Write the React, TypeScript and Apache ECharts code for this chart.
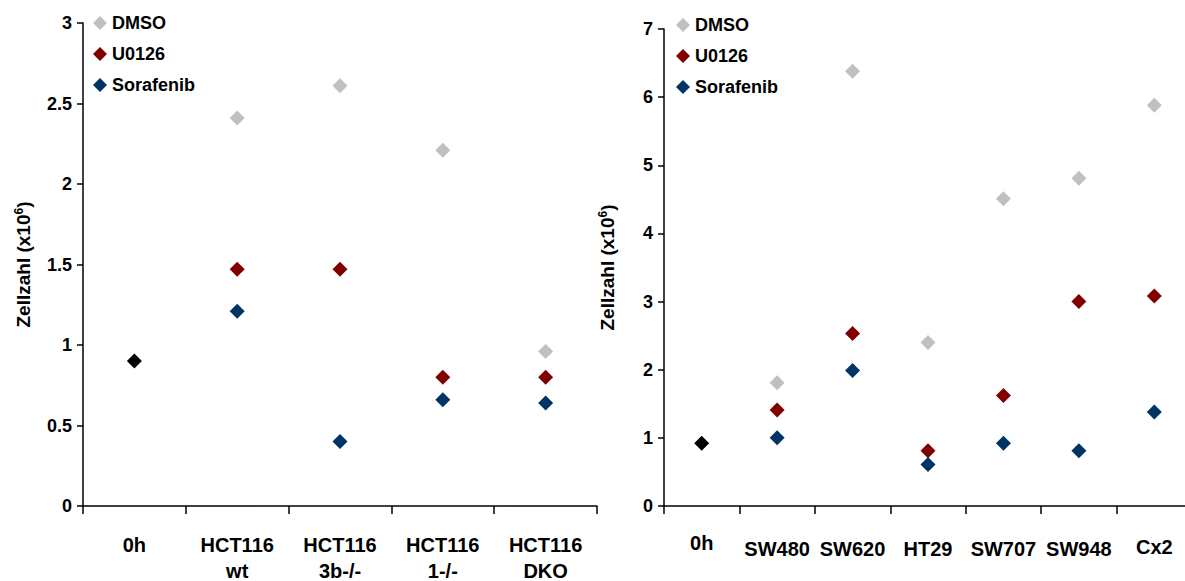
import React, { useEffect, useRef } from "react";
import * as echarts from "echarts";

const leftCategories = ["0h", "HCT116\nwt", "HCT116\n3b-/-", "HCT116\n1-/-", "HCT116\nDKO"];
const leftBaseline = [0.9, null, null, null, null];
const leftDMSO = [null, 2.41, 2.61, 2.21, 0.96];
const leftU0126 = [null, 1.47, 1.47, 0.8, 0.8];
const leftSorafenib = [null, 1.21, 0.4, 0.66, 0.64];
const leftTicks = { min: 0, max: 3, interval: 0.5 };

const rightCategories = ["0h", "SW480", "SW620", "HT29", "SW707", "SW948", "Cx2"];
const rightBaseline = [0.92, null, null, null, null, null, null];
const rightDMSO = [null, 1.81, 6.38, 2.4, 4.51, 4.81, 5.88];
const rightU0126 = [null, 1.41, 2.53, 0.81, 1.62, 3.0, 3.08];
const rightSorafenib = [null, 1.0, 1.99, 0.61, 0.92, 0.81, 1.38];
const rightTicks = { min: 0, max: 7, interval: 1 };

const seriesNames = ["DMSO", "U0126", "Sorafenib"];
const colors = { DMSO: "#c0c0c0", U0126: "#800000", Sorafenib: "#003366", base: "#000000" };

const FONT = "Liberation Sans, Arial, sans-serif";
const XFS = 20;

export default function App() {
  const ref = useRef<HTMLDivElement>(null);
  useEffect(() => {
    if (!ref.current) return;
    const chart = echarts.init(ref.current, null, { renderer: "svg" });
    const axisLineStyle = { lineStyle: { color: "#000", width: 1.5 } };
    const yAxisCommon = (t: any) => ({
      type: "value",
      min: t.min,
      max: t.max,
      interval: t.interval,
      axisLine: { show: true, ...axisLineStyle },
      axisTick: { show: true, length: 6, lineStyle: { color: "#000", width: 1.5 } },
      splitLine: { show: false },
      axisLabel: { color: "#000", fontFamily: FONT, fontWeight: "bold", fontSize: 18, margin: 11 },
      name: "Zellzahl (x10{sup|6})",
      nameLocation: "middle",
      nameGap: 50,
      nameRotate: 90,
      nameTextStyle: {
        color: "#000",
        fontFamily: FONT,
        fontWeight: "bold",
        fontSize: 19,
        rich: {
          sup: { fontFamily: FONT, fontWeight: "bold", fontSize: 12, verticalAlign: "top", padding: [0, 0, 8, 0], color: "#000" },
        },
      },
    });
    const xAxisCommon = (cats: string[]) => ({
      type: "category",
      data: cats,
      boundaryGap: true,
      axisLine: { show: true, ...axisLineStyle },
      axisTick: { show: true, length: 8, lineStyle: { color: "#000", width: 1.5 } },
      axisLabel: {
        color: "#000",
        fontFamily: FONT,
        fontWeight: "bold",
        fontSize: XFS,
        lineHeight: 26,
        margin: 26,
        interval: 0,
      },
    });
    const sym = (name: string, data: any[], idx: number, color: string) => ({
      name,
      type: "scatter",
      xAxisIndex: idx,
      yAxisIndex: idx,
      data,
      symbol: "diamond",
      symbolSize: 15,
      itemStyle: { color, opacity: 1 },
    });
    const legendCommon = {
      orient: "vertical",
      data: seriesNames,
      icon: "diamond",
      itemWidth: 14,
      itemHeight: 14,
      itemGap: 13,
      padding: 0,
      textStyle: { color: "#000", fontFamily: FONT, fontWeight: "bold", fontSize: 18 },
      selectedMode: false,
    };
    const rightLabelBase = xAxisCommon(rightCategories).axisLabel;
    chart.setOption({
      animation: false,
      backgroundColor: "#fff",
      legend: [
        { ...legendCommon, left: 93, top: 14 },
        { ...legendCommon, left: 676, top: 16 },
      ],
      grid: [
        { left: 83, top: 23, bottom: 75, width: 514, containLabel: false, outerBoundsMode: "none" },
        { left: 664, top: 29, bottom: 75, right: -7, containLabel: false, outerBoundsMode: "none" },
      ],
      xAxis: [
        { ...xAxisCommon(leftCategories), gridIndex: 0 },
        {
          ...xAxisCommon(rightCategories),
          gridIndex: 1,
          axisLabel: {
            ...rightLabelBase,
            margin: 24,
            formatter: (v: string) => (v === "0h" ? `{z|${v}}` : v === "Cx2" ? `{c|${v}}` : `{n|${v}}`),
            rich: {
              z: { fontFamily: FONT, fontWeight: "bold", fontSize: XFS, color: "#000", padding: [0, 0, 0, 0] },
              c: { fontFamily: FONT, fontWeight: "bold", fontSize: XFS, color: "#000", padding: [7, 0, 0, 0] },
              n: { fontFamily: FONT, fontWeight: "bold", fontSize: XFS, color: "#000", padding: [12, 0, 0, 0] },
            },
          },
        },
      ],
      yAxis: [
        { ...yAxisCommon(leftTicks), gridIndex: 0, nameGap: 50 },
        { ...yAxisCommon(rightTicks), gridIndex: 1, nameGap: 47 },
      ],
      series: [
        sym("base", leftBaseline, 0, colors.base),
        sym("DMSO", leftDMSO, 0, colors.DMSO),
        sym("U0126", leftU0126, 0, colors.U0126),
        sym("Sorafenib", leftSorafenib, 0, colors.Sorafenib),
        sym("base", rightBaseline, 1, colors.base),
        sym("DMSO", rightDMSO, 1, colors.DMSO),
        sym("U0126", rightU0126, 1, colors.U0126),
        sym("Sorafenib", rightSorafenib, 1, colors.Sorafenib),
      ],
    });
    return () => chart.dispose();
  }, []);
  return <div ref={ref} style={{ width: 1185, height: 581, position: "absolute", left: 0, top: 0 }} />;
}
